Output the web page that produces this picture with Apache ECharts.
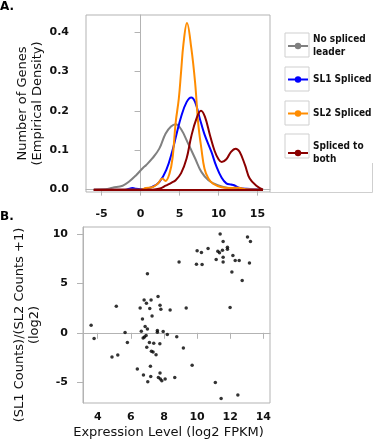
<!DOCTYPE html>
<html><head><meta charset="utf-8">
<script src="https://cdn.jsdelivr.net/npm/echarts@6/dist/echarts.min.js"></script>
<style>html,body{margin:0;padding:0;background:#fff}#c{width:373px;height:440px}</style>
</head><body><div id="c"></div>
<script>
// ---------- Panel A: density curves ----------
const seriesNames = ['No spliced\nleader', 'SL1 Spliced', 'SL2 Spliced', 'Spliced to\nboth'];
const seriesColors = ['#808080', '#0000ff', '#ff8c00', '#8b0000'];

const noSlX = [-6, -4.5, -3.6, -2.3, -1.5, -0.6, 0.3, 0.7, 1.5, 2.4, 3.2, 3.9, 4.5, 5.2, 6.1, 7.0, 7.8, 8.7, 9.9, 11.2, 12.9, 14.5, 15.7];
const noSlY = [0, 0.001, 0.005, 0.01, 0.02, 0.036, 0.055, 0.062, 0.079, 0.104, 0.142, 0.16, 0.166, 0.153, 0.117, 0.079, 0.045, 0.024, 0.011, 0.004, 0.0015, 0.0005, 0];

const sl1X = [-6, -2, -1.3, -1, -0.6, 0, 0.7, 1.5, 2.4, 3.3, 4.1, 4.6, 5.2, 5.9, 6.5, 7.0, 7.6, 8.2, 9.1, 9.7, 10.4, 11.0, 11.6, 12.0, 12.6, 13.6, 15.7];
const sl1Y = [0, 0, 0.003, 0.004, 0.002, 0.001, 0.003, 0.007, 0.019, 0.05, 0.1, 0.14, 0.185, 0.222, 0.234, 0.222, 0.18, 0.14, 0.095, 0.06, 0.03, 0.016, 0.013, 0.011, 0.005, 0.002, 0];

const sl2X = [-6, 0, 0.7, 1.5, 2.2, 2.8, 3.2, 3.7, 4.1, 4.5, 4.9, 5.2, 5.5, 5.95, 6.5, 7.0, 7.4, 7.8, 8.2, 8.7, 9.3, 10.4, 11.5, 12.5, 13.5, 15.7];
const sl2Y = [0, 0, 0.004, 0.006, 0.015, 0.028, 0.022, 0.04, 0.08, 0.17, 0.23, 0.3, 0.37, 0.423, 0.36, 0.27, 0.166, 0.104, 0.053, 0.028, 0.015, 0.006, 0.004, 0.005, 0.001, 0];

const bothX = [-6, 1.5, 2.5, 3.2, 4.0, 4.5, 5.2, 5.9, 6.5, 7.2, 7.75, 8.25, 8.9, 9.5, 10.0, 10.4, 11.0, 11.6, 12.2, 12.7, 13.4, 14.0, 14.9, 15.7];
const bothY = [0, 0, 0.003, 0.01, 0.018, 0.024, 0.042, 0.079, 0.135, 0.182, 0.2, 0.185, 0.138, 0.098, 0.077, 0.07, 0.077, 0.096, 0.104, 0.096, 0.062, 0.028, 0.009, 0];

const densityXTicks = [-5, 0, 5, 10, 15];
const densityYTicks = [0, 0.1, 0.2, 0.3, 0.4];

// ---------- Panel B: scatter ----------
const scatterX = [11.39, 13.04, 13.22, 11.57, 11.83, 11.83, 10.66, 10.0, 10.26, 11.25, 11.35, 11.53, 12.16, 11.57, 11.15, 12.3, 12.54, 11.57, 8.91, 9.96, 10.3, 13.16, 12.1, 12.72, 9.34, 11.99,
  7.0, 7.64, 6.8, 7.22, 6.94, 7.76, 5.12, 6.56, 7.14, 7.81, 8.37, 7.28, 6.7,
  3.6, 6.86, 7.0, 6.63, 7.6, 7.6, 7.95, 5.65, 8.2, 6.92, 8.77, 6.74, 6.82, 3.78, 7.12, 7.38, 5.79, 7.75, 6.96, 7.24, 7.34, 7.52, 5.21, 4.86, 7.18, 6.39, 7.76, 6.76, 7.2, 7.66, 7.78, 7.87, 8.07, 7.02, 8.65,
  9.17, 9.7, 11.1, 12.46, 11.45];
const scatterY = [10.0, 9.68, 9.24, 9.24, 8.66, 8.45, 8.53, 8.29, 8.12, 8.26, 8.09, 8.36, 7.82, 7.65, 7.41, 7.31, 7.31, 7.17, 7.17, 6.94, 6.91, 7.07, 6.16, 5.29, 2.51, 2.55,
  5.96, 3.67, 3.32, 3.32, 2.99, 2.79, 2.69, 2.52, 2.45, 2.38, 2.31, 1.7, 1.4,
  0.76, 0.63, 0.39, 0.15, 0.22, 0.05, 0.12, 0.02, -0.18, -0.28, -0.39, -0.53, -0.42, -0.57, -0.99, -1.06, -0.99, -1.1, -1.47, -1.87, -1.94, -2.21, -2.25, -2.45, -3.39, -3.67, -4.07, -4.27, -4.41, -4.51, -4.68, -4.84, -4.68, -4.94, -4.51,
  -1.54, -3.29, -5.02, -6.3, -6.64];
const scatterXTicks = [4, 6, 8, 10, 12, 14];
const scatterYTicks = [-5, 0, 5, 10];

const FONT = 'DejaVu Sans';
const LEGEND_FONT = '"DejaVu Sans Condensed", "DejaVu Sans"';
const frameColor = '#b3b3b3';
const zip = (xs, ys) => xs.map((x, i) => [x, ys[i]]);
const curves = [zip(noSlX, noSlY), zip(sl1X, sl1Y), zip(sl2X, sl2Y), zip(bothX, bothY)];

const chart = echarts.init(document.getElementById('c'), null, {renderer: 'canvas'});

function axisCommon(ticks, fmt, margin) {
  return {
    axisLine: {show: true, lineStyle: {color: frameColor, width: 1}},
    axisTick: {show: true, customValues: ticks, length: 6, lineStyle: {color: frameColor}},
    axisLabel: {customValues: ticks, formatter: fmt, margin: margin, color: '#111', fontFamily: FONT, fontWeight: 'bold', fontSize: 11},
    splitLine: {show: false}
  };
}

const legendTops = [33, 73, 107, 140];
const boxTops = [33, 67, 101, 134];

const option = {
  animation: false,
  backgroundColor: '#fff',
  textStyle: {fontFamily: FONT},
  title: [
    {text: 'A.', left: 0, top: 1, padding: 0, textStyle: {fontFamily: FONT, fontSize: 12, fontWeight: 'bold', color: '#000'}},
    {text: 'B.', left: 0, top: 211, padding: 0, textStyle: {fontFamily: FONT, fontSize: 12, fontWeight: 'bold', color: '#000'}}
  ],
  grid: [
    {left: 86, top: 15, width: 184, height: 177, show: true, borderColor: frameColor, borderWidth: 1},
    {left: 83, top: 227, width: 187, height: 176, show: true, borderColor: frameColor, borderWidth: 1}
  ],
  xAxis: [
    Object.assign({type: 'value', gridIndex: 0, min: -7, max: 16.6}, axisCommon(densityXTicks, v => String(v), 17)),
    Object.assign({type: 'value', gridIndex: 1, min: 3.11, max: 14.4,
      name: 'Expression Level (log2 FPKM)', nameLocation: 'middle', nameGap: 23,
      nameTextStyle: {fontFamily: FONT, fontSize: 13, color: '#111', padding: [0, 16, 0, 0]}}, axisCommon(scatterXTicks, v => String(v), 9))
  ],
  yAxis: [
    Object.assign({type: 'value', gridIndex: 0, min: -0.006, max: 0.443,
      name: 'Number of Genes\n(Empirical Density)', nameLocation: 'middle', nameGap: 39,
      nameTextStyle: {fontFamily: FONT, fontSize: 13, color: '#111', lineHeight: 15}}, axisCommon(densityYTicks, v => v.toFixed(1), 17)),
    Object.assign({type: 'value', gridIndex: 1, min: -7.1, max: 10.7,
      name: '(SL1 Counts)/(SL2 Counts +1)\n(log2)', nameLocation: 'middle', nameGap: 37,
      nameTextStyle: {fontFamily: FONT, fontSize: 13, color: '#111', lineHeight: 15, padding: [0, 20, 0, 0]}}, axisCommon(scatterYTicks, v => String(v), 15))
  ],
  legend: seriesNames.map((n, i) => ({
    data: [n], orient: 'vertical', left: 287, top: legendTops[i], padding: 0,
    itemWidth: 20, itemHeight: 8, selectedMode: false,
    textStyle: {fontFamily: LEGEND_FONT, fontWeight: 'bold', fontSize: 10, color: '#111', lineHeight: 13}
  })),
  graphic: boxTops.map(t => ({
    type: 'rect', shape: {x: 285, y: t, width: 24, height: 24}, silent: true, z: -1,
    style: {fill: '#fff', stroke: '#cfcfcf', lineWidth: 1}
  })).concat([
    {type: 'polyline', shape: {points: [[270, 192.5], [372.5, 192.5], [372.5, 163]]}, style: {stroke: '#cfcfcf', lineWidth: 1, fill: null}, silent: true}
  ]),
  series: curves.map((d, i) => ({
    name: seriesNames[i], type: 'line', xAxisIndex: 0, yAxisIndex: 0, data: d,
    smooth: 0.4, symbol: 'circle', showSymbol: false, symbolSize: 6,
    lineStyle: {color: seriesColors[i], width: 2}, itemStyle: {color: seriesColors[i]},
    z: 2 + i,
    markLine: i === 3 ? {silent: true, symbol: 'none', label: {show: false},
      lineStyle: {color: seriesColors[3], width: 2, type: 'solid'},
      data: [[{coord: [bothX[0], 0]}, {coord: [bothX[bothX.length - 1], 0]}]]} : undefined
  })).concat([{
    type: 'scatter', xAxisIndex: 1, yAxisIndex: 1, data: zip(scatterX, scatterY),
    symbolSize: 3.5, itemStyle: {color: '#000'}
  }])
};
chart.setOption(option);
</script></body></html>
